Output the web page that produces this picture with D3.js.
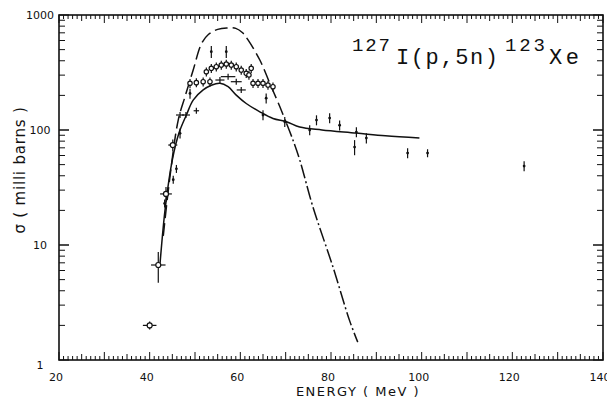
<!DOCTYPE html>
<html>
<head>
<meta charset="utf-8">
<script src="https://cdn.jsdelivr.net/npm/d3@7"></script>
<style>
  body { margin: 0; background: #fff; }
  svg { display: block; }
  text { fill: #111; }
</style>
</head>
<body>
<svg id="chart" width="607" height="400"></svg>
<script>
// 127I(p,5n)123Xe excitation function

// axis ticks
var xTickValues = [20, 40, 60, 80, 100, 120, 140];
var yTickValues = [1, 10, 100, 1000];

// solid calculation
var solidE = [42.3, 43.5, 45.0, 46.5, 48.1, 49.6, 51.8, 53.6, 55.5, 57.3, 59.1, 61.3, 64.3, 67.2, 70.2, 73.1, 78.0, 85.6, 92.0, 99.5];
var solidS = [7, 22, 55, 95, 135, 182, 223, 245, 255, 238, 201, 170, 144, 126, 118, 106, 100, 94, 89, 85];

// dashed calculation (long dash part, then dash-dot tail)
var dashE = [43.0, 44.5, 46.3, 47.8, 49.6, 51.4, 53.0, 55.0, 57.0, 59.0, 60.5, 61.7, 64.3, 66.5, 68.7, 70.2];
var dashS = [12, 40, 122, 195, 332, 560, 680, 750, 772, 765, 700, 607, 406, 255, 160, 114];
var tailE = [70.2, 71.6, 73.1, 76.0, 80.4, 84.1, 85.9];
var tailS = [114, 82, 55, 21.5, 6.5, 2.2, 1.43];

// points with circle + both error bars
var crossE = [40.0, 41.9, 43.6, 45.1];
var crossS = [2.0, 6.7, 27.8, 74];
var crossDE = [1.5, 1.6, 1.3, 1.0];
var crossErr = [0.08, 0.3, 0.15, 0.12];

// open circles with vertical error bars
var openE = [48.9, 50.3, 51.8, 53.3, 52.5, 53.6, 54.7, 55.8, 56.9, 58.0, 59.1, 60.2, 61.3, 62.4, 61.9, 62.8, 63.9, 65.0, 66.1, 67.2];
var openS = [255, 258, 263, 263, 321, 344, 355, 367, 375, 367, 355, 332, 311, 344, 301, 255, 255, 255, 246, 238];

// points with horizontal bars
var horzE = [46.7, 48.0, 50.3, 55.5, 57.3, 59.1, 60.2];
var horzS = [135, 135, 147, 272, 291, 263, 223];
var horzDE = [0.9, 0.9, 0.6, 1.0, 1.6, 1.2, 1.0];

// points with vertical bars only
var barE = [43.3, 45.2, 45.9, 46.7, 48.9, 53.6, 56.9, 65.7, 65.0, 69.8, 75.3, 76.8, 79.7, 81.9, 85.6, 85.2, 87.8, 96.9, 101.3, 122.6];
var barS = [23, 37, 46, 93.5, 208, 480, 480, 189, 135, 118, 100, 122, 127, 110, 96, 71, 85, 63, 63, 48.6];
var barErr = [0.08, 0.08, 0.08, 0.1, 0.1, 0.12, 0.12, 0.1, 0.1, 0.1, 0.1, 0.1, 0.1, 0.1, 0.1, 0.15, 0.1, 0.1, 0.08, 0.1];

(function() {
  var plotL = 59, plotR = 603, plotT = 15, plotB = 360;
  var ink = "#111";

  var svg = d3.select("#chart");
  var x = d3.scaleLinear().domain([20, 140]).range([plotL, plotR]);
  var y = d3.scaleLog().domain([1, 1000]).range([plotB, plotT]);

  function zip(a, b) { return a.map(function(v, i) { return [v, b[i]]; }); }

  // frame
  svg.append("rect")
    .attr("x", plotL).attr("y", plotT)
    .attr("width", plotR - plotL).attr("height", plotB - plotT)
    .attr("fill", "none").attr("stroke", ink).attr("stroke-width", 1.6);

  // x ticks, bottom (pointing up) and top (pointing down)
  var xMinor = d3.range(20, 141, 1);
  var ticks = svg.append("g").attr("stroke", ink).attr("stroke-width", 1);
  xMinor.forEach(function(v) {
    var len = v % 10 === 0 ? 8 : (v % 5 === 0 ? 6 : 4);
    ticks.append("line").attr("x1", x(v)).attr("x2", x(v))
      .attr("y1", plotB).attr("y2", plotB - len);
    ticks.append("line").attr("x1", x(v)).attr("x2", x(v))
      .attr("y1", plotT).attr("y2", plotT + len);
  });

  // y ticks, left and right
  var yMinor = [];
  [1, 10, 100].forEach(function(d) {
    for (var k = 1; k <= 10; k++) yMinor.push(d * k);
  });
  yMinor.forEach(function(v) {
    var major = yTickValues.indexOf(v) >= 0;
    var len = major ? 10 : 6;
    ticks.append("line").attr("x1", plotL).attr("x2", plotL + len)
      .attr("y1", y(v)).attr("y2", y(v));
    ticks.append("line").attr("x1", plotR).attr("x2", plotR - len)
      .attr("y1", y(v)).attr("y2", y(v));
  });

  // tick labels
  var labelFont = "'DejaVu Sans', sans-serif";
  svg.append("g").selectAll("text").data(xTickValues).enter().append("text")
    .attr("x", function(d) { return x(d) - 3; })
    .attr("y", 381)
    .attr("text-anchor", "middle")
    .attr("font-family", labelFont).attr("font-size", 11)
    .text(function(d) { return d; });

  svg.append("g").selectAll("text").data(yTickValues).enter().append("text")
    .attr("x", 40)
    .attr("y", function(d) { return y(d) + (d === 1 ? 9 : 4); })
    .attr("text-anchor", "middle")
    .attr("font-family", labelFont).attr("font-size", 11)
    .text(function(d) { return d; });

  // axis titles
  svg.append("text")
    .attr("x", 358).attr("y", 396)
    .attr("text-anchor", "middle")
    .attr("font-family", labelFont).attr("font-size", 13)
    .attr("letter-spacing", 1.5)
    .text("ENERGY ( MeV )");

  svg.append("text")
    .attr("transform", "translate(25,170) rotate(-90)")
    .attr("text-anchor", "middle")
    .attr("font-family", labelFont).attr("font-size", 15)
    .attr("letter-spacing", 0.8)
    .text("\u03c3 ( milli barns )");

  // reaction label
  var mono = "'Liberation Mono', 'Courier New', monospace";
  var title = svg.append("g").attr("font-family", mono);
  title.append("text").attr("x", 352).attr("y", 51).attr("font-size", 19)
    .attr("textLength", 38).text("127");
  title.append("text").attr("x", 396).attr("y", 64).attr("font-size", 22)
    .attr("textLength", 102).text("I(p,5n)");
  title.append("text").attr("x", 505).attr("y", 51).attr("font-size", 19)
    .attr("textLength", 40).text("123");
  title.append("text").attr("x", 549).attr("y", 64).attr("font-size", 22)
    .attr("textLength", 30).text("Xe");

  // curves
  var line = d3.line()
    .x(function(d) { return x(d[0]); })
    .y(function(d) { return y(d[1]); })
    .curve(d3.curveCatmullRom.alpha(0.5));

  svg.append("path").datum(zip(solidE, solidS))
    .attr("d", line).attr("fill", "none")
    .attr("stroke", ink).attr("stroke-width", 1.5);

  svg.append("path").datum(zip(dashE, dashS))
    .attr("d", line).attr("fill", "none")
    .attr("stroke", ink).attr("stroke-width", 1.5)
    .attr("stroke-dasharray", "13,5");

  svg.append("path").datum(zip(tailE, tailS))
    .attr("d", line).attr("fill", "none")
    .attr("stroke", ink).attr("stroke-width", 1.5)
    .attr("stroke-dasharray", "14,3,2,3");

  // data points
  var pts = svg.append("g").attr("stroke", ink).attr("stroke-width", 1.2);

  function vbar(e, s, err) {
    pts.append("line").attr("x1", x(e)).attr("x2", x(e))
      .attr("y1", y(s * (1 - err))).attr("y2", y(s * (1 + err)));
  }
  function hbar(e, s, de) {
    pts.append("line").attr("x1", x(e - de)).attr("x2", x(e + de))
      .attr("y1", y(s)).attr("y2", y(s));
  }

  crossE.forEach(function(e, i) {
    hbar(e, crossS[i], crossDE[i]);
    vbar(e, crossS[i], crossErr[i]);
    pts.append("circle").attr("cx", x(e)).attr("cy", y(crossS[i]))
      .attr("r", 2.5).attr("fill", "#fff");
  });

  openE.forEach(function(e, i) {
    vbar(e, openS[i], 0.09);
    pts.append("circle").attr("cx", x(e)).attr("cy", y(openS[i]))
      .attr("r", 2.2).attr("fill", "#fff");
  });

  horzE.forEach(function(e, i) {
    hbar(e, horzS[i], horzDE[i]);
    vbar(e, horzS[i], 0.06);
  });

  barE.forEach(function(e, i) {
    vbar(e, barS[i], barErr[i]);
    pts.append("circle").attr("cx", x(e)).attr("cy", y(barS[i]))
      .attr("r", 1.4).attr("fill", ink).attr("stroke", "none");
  });
})();
</script>
</body>
</html>
